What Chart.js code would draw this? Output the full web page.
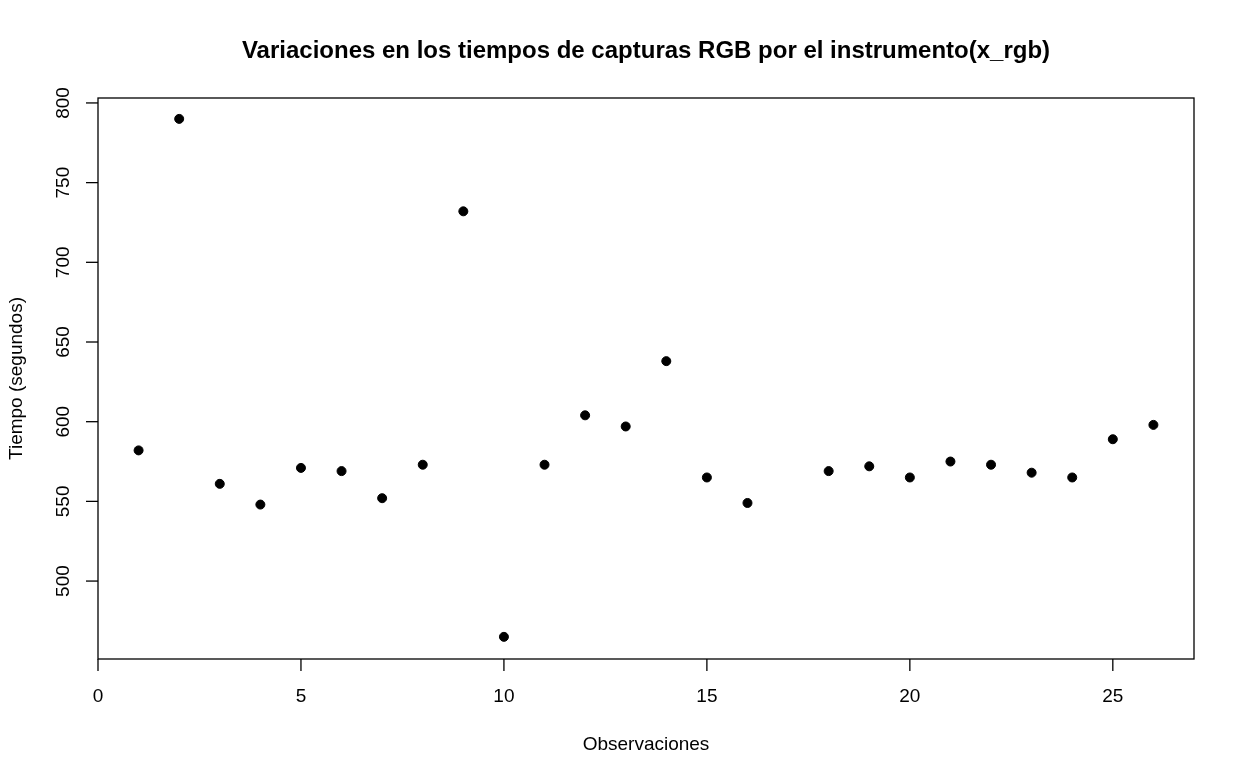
<!DOCTYPE html>
<html>
<head>
<meta charset="utf-8">
<script src="https://cdn.jsdelivr.net/npm/chart.js@4"></script>
<style>
  html, body { margin: 0; padding: 0; background: #fff; }
  #wrap { width: 1245px; height: 782px; }
</style>
</head>
<body>
<div id="wrap"><canvas id="myChart"></canvas></div>
<script>
// observation number and capture time (seconds); obs 17 has no value
var observations = [1, 2, 3, 4, 5, 6, 7, 8, 9, 10, 11, 12, 13, 14, 15, 16, 18, 19, 20, 21, 22, 23, 24, 25, 26];
var tiempos = [582, 790, 561, 548, 571, 569, 552, 573, 732, 465, 573, 604, 597, 638, 565, 549, 569, 572, 565, 575, 573, 568, 565, 589, 598];
var xTicks = [0, 5, 10, 15, 20, 25];
var yTicks = [500, 550, 600, 650, 700, 750, 800];

var titleText = 'Variaciones en los tiempos de capturas RGB por el instrumento(x_rgb)';
var xTitle = 'Observaciones';
var yTitle = 'Tiempo (segundos)';

var points = observations.map(function(o, i) { return { x: o, y: tiempos[i] }; });

// R style box, outward ticks and rotated y labels
var rAxes = {
  id: 'rAxes',
  afterDraw: function(chart) {
    var c = chart.ctx;
    var a = chart.chartArea;
    var xs = chart.scales.x, ys = chart.scales.y;
    c.save();
    c.strokeStyle = '#000';
    c.fillStyle = '#000';
    c.lineWidth = 1.3;
    c.strokeRect(a.left, a.top, a.right - a.left, a.bottom - a.top);

    c.font = '19px "Liberation Sans", Arial, sans-serif';
    c.textAlign = 'center';
    c.textBaseline = 'middle';
    xTicks.forEach(function(t) {
      var px = xs.getPixelForValue(t);
      c.beginPath();
      c.moveTo(px, a.bottom);
      c.lineTo(px, a.bottom + 12);
      c.stroke();
      c.fillText(String(t), px, a.bottom + 38);
    });
    yTicks.forEach(function(t) {
      var py = ys.getPixelForValue(t);
      c.beginPath();
      c.moveTo(a.left, py);
      c.lineTo(a.left - 12, py);
      c.stroke();
      c.save();
      c.translate(a.left - 34, py);
      c.rotate(-Math.PI / 2);
      c.fillText(String(t), 0, 0);
      c.restore();
    });

    c.fillText(xTitle, (a.left + a.right) / 2, 745);
    c.save();
    c.translate(17, (a.top + a.bottom) / 2);
    c.rotate(-Math.PI / 2);
    c.fillText(yTitle, 0, 0);
    c.restore();

    c.font = 'bold 24px "Liberation Sans", Arial, sans-serif';
    c.fillText(titleText, (a.left + a.right) / 2, 51);
    c.restore();
  }
};

var ctx = document.getElementById('myChart').getContext('2d');

var myChart = new Chart(ctx, {
  type: 'scatter',
  data: {
    datasets: [{
      label: 'x_rgb',
      data: points,
      backgroundColor: '#000',
      borderColor: '#000',
      pointRadius: 4.5,
      pointHoverRadius: 4.5
    }]
  },
  options: {
    responsive: true,
    maintainAspectRatio: false,
    animation: false,
    layout: { padding: { left: 98, top: 98, right: 51, bottom: 123 } },
    plugins: {
      legend: { display: false },
      tooltip: { enabled: false }
    },
    scales: {
      x: { type: 'linear', display: false, min: 0, max: 27 },
      y: { type: 'linear', display: false, min: 451.1, max: 803.1 }
    }
  },
  plugins: [rAxes]
});
</script>
</body>
</html>
